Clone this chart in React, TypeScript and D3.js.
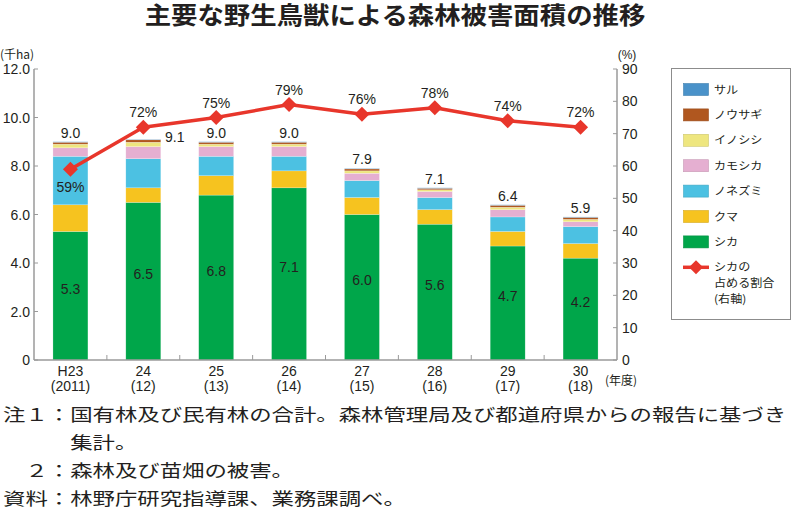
import React from "react";
import * as d3 from "d3";

const categories = ["H23", "24", "25", "26", "27", "28", "29", "30"];
const categoriesAD = ["(2011)", "(12)", "(13)", "(14)", "(15)", "(16)", "(17)", "(18)"];
const shika = [5.3, 6.5, 6.8, 7.1, 6.0, 5.6, 4.7, 4.2];
const kuma = [1.1, 0.6, 0.8, 0.7, 0.7, 0.6, 0.6, 0.6];
const nezumi = [2.0, 1.2, 0.8, 0.6, 0.7, 0.5, 0.6, 0.7];
const kamoshika = [0.35, 0.5, 0.4, 0.4, 0.3, 0.25, 0.3, 0.2];
const inoshishi = [0.15, 0.18, 0.1, 0.1, 0.1, 0.07, 0.1, 0.1];
const usagi = [0.08, 0.1, 0.08, 0.08, 0.08, 0.06, 0.08, 0.08];
const saru = [0.02, 0.02, 0.02, 0.02, 0.02, 0.02, 0.02, 0.02];
const totals = [9.0, 9.1, 9.0, 9.0, 7.9, 7.1, 6.4, 5.9];
const shikaShare = [59, 72, 75, 79, 76, 78, 74, 72];

const seriesKeys = ["shika", "kuma", "nezumi", "kamoshika", "inoshishi", "usagi", "saru"];
const seriesNames = ["シカ", "クマ", "ノネズミ", "カモシカ", "イノシシ", "ノウサギ", "サル"];
const seriesColors = ["#00a64a", "#f6c31f", "#4cc1e2", "#e5afd1", "#eee67f", "#b0571f", "#4a92c9"];
const seriesValues = [shika, kuma, nezumi, kamoshika, inoshishi, usagi, saru];
const lineLegend = ["シカの", "占める割合", "(右軸)"];

const title = "主要な野生鳥獣による森林被害面積の推移";
const noteLines = [
  { text: "注１：国有林及び民有林の合計。森林管理局及び都道府県からの報告に基づき", col: 0 },
  { text: "集計。", col: 3 },
  { text: "２：森林及び苗畑の被害。", col: 1 },
  { text: "資料：林野庁研究指導課、業務課調べ。", col: 0 },
];

const NUM = "'Liberation Sans', Arial, 'Noto Sans CJK JP', sans-serif";
const JP = "'Noto Sans CJK JP', sans-serif";
const TXT = "#231f20";
const RED = "#e8362b";
const AXIS = "#9a9a9a";

export default function App() {
  const x0 = 34, x1 = 617, yTop = 69, yBot = 360;
  const x = d3.scaleBand<string>().domain(categories).range([x0, x1]).paddingInner(0.52).paddingOuter(0.26);
  const yL = d3.scaleLinear().domain([0, 12]).range([yBot, yTop]);
  const yR = d3.scaleLinear().domain([0, 90]).range([yBot, yTop]);

  const table = categories.map((c, i) => {
    const row: any = { cat: c };
    seriesKeys.forEach((k, j) => (row[k] = seriesValues[j][i]));
    return row;
  });
  const stacked = d3.stack().keys(seriesKeys)(table as any);

  const line = d3
    .line<number>()
    .x((_, i) => (x(categories[i]) as number) + x.bandwidth() / 2)
    .y((d) => yR(d));

  const bw = x.bandwidth();
  const step = x.step();
  const diamond = (cx: number, cy: number, r: number) =>
    `M${cx},${cy - r}L${cx + r},${cy}L${cx},${cy + r}L${cx - r},${cy}Z`;

  const legendItems = seriesNames.map((n, i) => ({ n, c: seriesColors[i] })).reverse();
  const legY0 = 89.5, legStep = 25.4;
  const legFs = 11, legSx = 1.1;

  const noteFs = 17.5, noteSx = 1.28, noteAdv = noteFs * noteSx;
  const noteBase = [421, 449, 477, 505];

  return (
    <svg width={792} height={523} style={{ position: "absolute", left: 0, top: 0, background: "#fff" }}>
      <text
        transform={`translate(395,23.5) scale(1.1,1)`}
        textAnchor="middle"
        fontFamily={JP}
        fontWeight={700}
        fontSize={24}
        fill={TXT}
      >
        {title}
      </text>

      {/* axis unit labels */}
      <text x={17} y={59} textAnchor="middle" fontFamily={JP} fontSize={12} fill={TXT}>(千ha)</text>
      <text x={627} y={59} textAnchor="middle" fontFamily={NUM} fontSize={12} fill={TXT}>(%)</text>
      <text x={621} y={385} textAnchor="middle" fontFamily={JP} fontSize={12} fill={TXT}>(年度)</text>

      {/* bars */}
      {stacked.map((s, j) => (
        <g key={s.key} fill={seriesColors[j]}>
          {s.map((d, i) => (
            <rect
              key={i}
              x={x(categories[i])}
              y={yL(d[1])}
              width={bw}
              height={Math.max(0, yL(d[0]) - yL(d[1]))}
              stroke="#ffffff"
              strokeOpacity={0.45}
              strokeWidth={0.5}
            />
          ))}
        </g>
      ))}

      {/* shika values inside bars */}
      {shika.map((v, i) => (
        <text
          key={i}
          x={(x(categories[i]) as number) + bw / 2}
          y={(yL(v) + yL(0)) / 2 - 2}
          textAnchor="middle"
          fontFamily={NUM}
          fontSize={14}
          fill={TXT}
        >
          {d3.format(".1f")(v)}
        </text>
      ))}

      {/* totals */}
      {totals.map((t, i) => {
        const cx = (x(categories[i]) as number) + bw / 2;
        const side = i === 1;
        return (
          <text
            key={i}
            x={side ? cx + bw / 2 + 14 : cx}
            y={side ? yL(t) + 3 : yL(t) - 4}
            textAnchor="middle"
            fontFamily={NUM}
            fontSize={14}
            fill={TXT}
          >
            {d3.format(".1f")(t)}
          </text>
        );
      })}

      {/* axes */}
      <line x1={x0} x2={x0} y1={yTop} y2={yBot} stroke={AXIS} strokeWidth={1.5} />
      <line x1={x1} x2={x1} y1={yTop} y2={yBot} stroke={AXIS} strokeWidth={1.5} />
      <line x1={x0} x2={x1} y1={yBot} y2={yBot} stroke={AXIS} strokeWidth={1.5} />
      {yL.ticks(6).map((t) => (
        <g key={"l" + t}>
          <line x1={x0} x2={x0 + 4} y1={yL(t)} y2={yL(t)} stroke={AXIS} strokeWidth={1} />
          <text x={30} y={yL(t) + 5} textAnchor="end" fontFamily={NUM} fontSize={14} fill={TXT}>
            {t === 0 ? "0" : d3.format(".1f")(t)}
          </text>
        </g>
      ))}
      {yR.ticks(9).map((t) => (
        <g key={"r" + t}>
          <line x1={x1 - 4} x2={x1} y1={yR(t)} y2={yR(t)} stroke={AXIS} strokeWidth={1} />
          <text x={622} y={yR(t) + 5} textAnchor="start" fontFamily={NUM} fontSize={14} fill={TXT}>
            {t}
          </text>
        </g>
      ))}
      {categories.slice(1).map((c) => (
        <line
          key={"xt" + c}
          x1={(x(c) as number) - (step - bw) / 2}
          x2={(x(c) as number) - (step - bw) / 2}
          y1={yBot}
          y2={yBot - 5}
          stroke={AXIS}
          strokeWidth={1}
        />
      ))}
      {categories.map((c, i) => (
        <g key={"xl" + c}>
          <text x={(x(c) as number) + bw / 2} y={376} textAnchor="middle" fontFamily={NUM} fontSize={14} fill={TXT}>
            {c}
          </text>
          <text x={(x(c) as number) + bw / 2} y={391} textAnchor="middle" fontFamily={NUM} fontSize={14} fill={TXT}>
            {categoriesAD[i]}
          </text>
        </g>
      ))}

      {/* line */}
      <path d={line(shikaShare) as string} fill="none" stroke={RED} strokeWidth={3.5} strokeLinejoin="round" />
      {shikaShare.map((v, i) => {
        const cx = (x(categories[i]) as number) + bw / 2;
        const cy = yR(v);
        return (
          <g key={"p" + i}>
            <path d={diamond(cx, cy, 7.5)} fill={RED} />
            <text
              x={cx}
              y={i === 0 ? cy + 23 : cy - 10}
              textAnchor="middle"
              fontFamily={NUM}
              fontSize={14}
              fill={TXT}
            >
              {v + "%"}
            </text>
          </g>
        );
      })}

      {/* legend */}
      <rect x={671.5} y={68.5} width={119} height={251} fill="#fff" stroke="#8c8c8c" strokeWidth={1} />
      {legendItems.map((it, i) => (
        <g key={"lg" + i}>
          <rect x={683.5} y={legY0 + i * legStep - 6} width={25} height={12} fill={it.c} stroke={d3.color(it.c)!.darker(0.4).toString()} strokeWidth={0.6} />
          <text
            transform={`translate(714,${legY0 + i * legStep + 4})scale(${legSx},1)`}
            fontFamily={JP}
            fontSize={legFs}
            fill={TXT}
          >
            {it.n}
          </text>
        </g>
      ))}
      <line x1={683} x2={709} y1={legY0 + 7 * legStep} y2={legY0 + 7 * legStep} stroke={RED} strokeWidth={3.5} />
      <path d={diamond(696, legY0 + 7 * legStep, 7)} fill={RED} />
      {lineLegend.map((t, k) => (
        <text
          key={"ll" + k}
          transform={`translate(714,${legY0 + 7 * legStep + 4 + k * 15.6})scale(${legSx},1)`}
          fontFamily={JP}
          fontSize={legFs}
          fill={TXT}
        >
          {t}
        </text>
      ))}

      {/* notes */}
      {noteLines.map((ln, i) => (
        <text
          key={"n" + i}
          transform={`translate(${3 + ln.col * noteAdv},${noteBase[i]}) scale(${noteSx},1)`}
          fontFamily={JP}
          fontSize={noteFs}
          fill={TXT}
        >
          {ln.text}
        </text>
      ))}
    </svg>
  );
}
